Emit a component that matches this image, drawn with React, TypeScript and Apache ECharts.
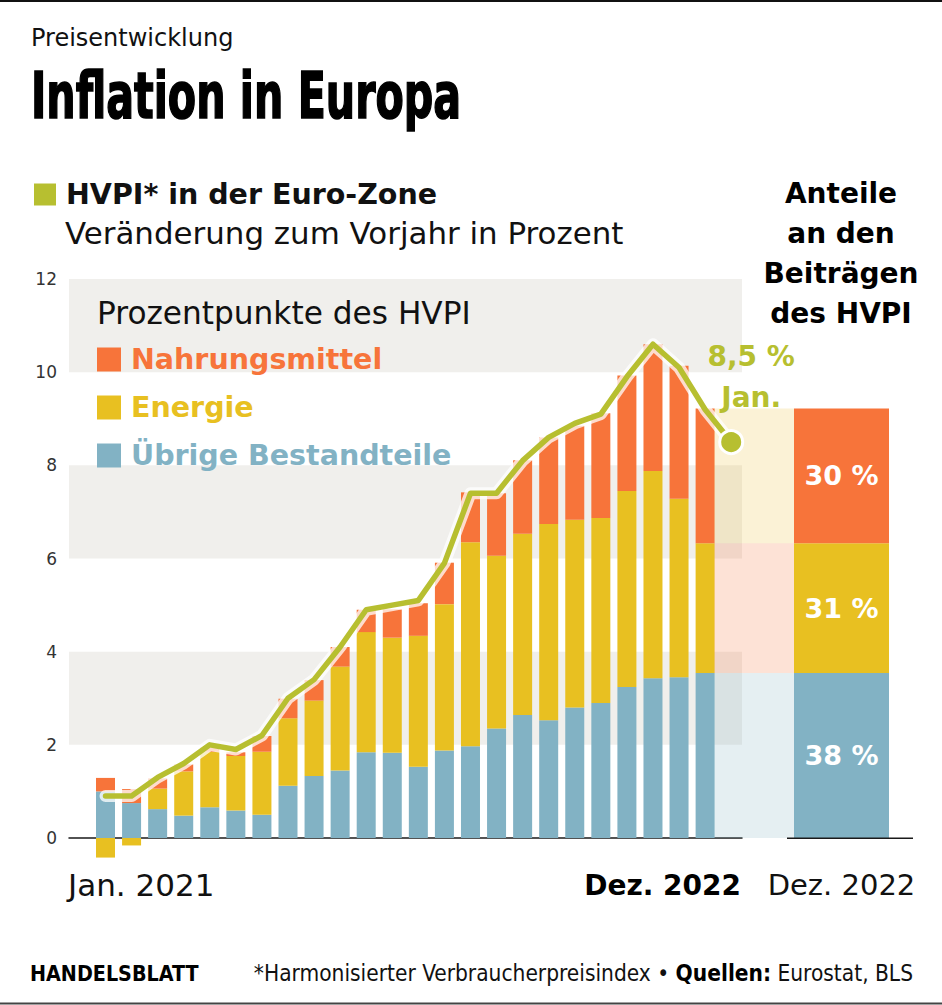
import React, { useEffect, useRef } from 'react';
import * as echarts from 'echarts';

// Monate (Jan. 2021 bis Jan. 2023; letzter Monat nur HVPI)
const months = [
  'Jan. 2021', 'Feb. 2021', 'März 2021', 'Apr. 2021', 'Mai 2021', 'Juni 2021',
  'Juli 2021', 'Aug. 2021', 'Sep. 2021', 'Okt. 2021', 'Nov. 2021', 'Dez. 2021',
  'Jan. 2022', 'Feb. 2022', 'März 2022', 'Apr. 2022', 'Mai 2022', 'Juni 2022',
  'Juli 2022', 'Aug. 2022', 'Sep. 2022', 'Okt. 2022', 'Nov. 2022', 'Dez. 2022',
  'Jan. 2023',
];

// Beiträge in Prozentpunkten (Jan. 2021 bis Dez. 2022)
const other = [
  1.0, 0.75, 0.62, 0.48, 0.66, 0.59, 0.5, 1.12, 1.33, 1.45, 1.84, 1.83,
  1.53, 1.88, 1.97, 2.35, 2.64, 2.53, 2.8, 2.9, 3.24, 3.43, 3.45, 3.54,
];
const energy = [
  -0.42, -0.16, 0.44, 0.95, 1.19, 1.17, 1.35, 1.45, 1.62, 2.23, 2.58, 2.47,
  2.81, 3.14, 4.38, 3.71, 3.89, 4.21, 4.03, 3.97, 4.21, 4.45, 3.83, 2.79,
];
const food = [
  0.29, 0.3, 0.22, 0.15, 0.09, 0.08, 0.34, 0.42, 0.44, 0.42, 0.48, 0.61,
  0.7, 0.89, 1.07, 1.34, 1.58, 1.86, 2.02, 2.25, 2.48, 2.72, 2.86, 2.89,
];

// HVPI, Veränderung zum Vorjahr in Prozent (Jan. 2021 bis Jan. 2023)
const hvpi = [
  0.9, 0.9, 1.3, 1.6, 2.0, 1.9, 2.2, 3.0, 3.4, 4.1, 4.9, 5.0,
  5.1, 5.9, 7.4, 7.4, 8.1, 8.6, 8.9, 9.1, 9.9, 10.6, 10.1, 9.2, 8.5,
];

// Anteile an den Beiträgen, Dez. 2022 (Übrige, Energie, Nahrungsmittel)
const shares = [38, 31, 30];

const yTicks = [0, 2, 4, 6, 8, 10, 12];
const bandRanges = [[2, 4], [6, 8], [10, 12]];

const names = {
  food: 'Nahrungsmittel',
  energy: 'Energie',
  other: 'Übrige Bestandteile',
  hvpi: 'HVPI* in der Euro-Zone',
};

const C = {
  food: '#f7743a',
  energy: '#e8c021',
  other: '#82b2c4',
  olive: '#b7bf30',
  band: '#f0efec',
  tintFood: 'rgba(237,196,69,0.22)',
  tintEnergy: 'rgba(246,123,69,0.22)',
  tintOther: 'rgba(137,182,196,0.22)',
};

const FONT = '"DejaVu Sans", sans-serif';
const COND = '"DejaVu Sans Condensed", sans-serif';

export default function App() {
  const ref = useRef<HTMLDivElement>(null);

  useEffect(() => {
    if (!ref.current) return;
    const chart = echarts.init(ref.current, undefined, { renderer: 'svg' });
    const lastBar = other.length - 1;
    const lastIdx = hvpi.length - 1;
    const decLabel = months[lastBar];
    const janShort = months[lastIdx].split(' ')[0];
    const yMin = yTicks[0];
    const yMax = yTicks[yTicks.length - 1];

    const stackBar = (name: string, data: number[], color: string) => ({
      name,
      type: 'bar',
      stack: 'hvpi',
      xAxisIndex: 1,
      yAxisIndex: 1,
      barWidth: 19,
      clip: false,
      silent: true,
      itemStyle: { color },
      data,
    });

    const tintBar = (name: string, v: number, color: string) => ({
      name,
      type: 'bar',
      stack: 'tint',
      xAxisIndex: 2,
      yAxisIndex: 2,
      barWidth: '100%',
      silent: true,
      itemStyle: { color },
      data: [v],
    });

    const shareBar = (name: string, v: number, share: number, color: string) => ({
      name,
      type: 'bar',
      stack: 'share',
      xAxisIndex: 3,
      yAxisIndex: 3,
      barWidth: '100%',
      silent: true,
      itemStyle: { color },
      label: {
        show: true,
        position: 'inside',
        formatter: `${share} %`,
        color: '#fff',
        fontSize: 27,
        fontWeight: 'bold',
        fontFamily: FONT,
      },
      data: [v],
    });

    const fmt = (v: number) => String(v).replace('.', ',');
    const hiddenY = (gridIndex: number) => ({ type: 'value', gridIndex, min: yMin, max: yMax, show: false });

    const option: any = {
      animation: false,
      backgroundColor: '#ffffff',
      textStyle: { fontFamily: FONT },
      grid: [
        { left: 69, top: 279, width: 673, height: 559 },
        { left: 92.47, top: 279, width: 651.75, height: 559 },
        { left: 714.3, top: 279, width: 79.7, height: 559 },
        { left: 794, top: 279, width: 95, height: 559 },
      ],
      xAxis: [
        {
          type: 'value',
          gridIndex: 0,
          min: 0,
          max: 1,
          axisLine: { show: true, lineStyle: { color: '#1a1a1a', width: 1.5 } },
          axisTick: { show: false },
          axisLabel: { show: false },
          splitLine: { show: false },
        },
        { type: 'category', gridIndex: 1, data: months, show: false },
        { type: 'category', gridIndex: 2, data: [decLabel], show: false },
        {
          type: 'category',
          gridIndex: 3,
          data: [decLabel],
          axisLine: { show: false },
          axisTick: { show: false },
          axisLabel: { fontSize: 29, color: '#111', margin: 32, fontFamily: FONT },
        },
      ],
      yAxis: [
        {
          type: 'value',
          gridIndex: 0,
          min: yMin,
          max: yMax,
          interval: 2,
          axisLine: { show: false },
          axisTick: { show: false },
          splitLine: { show: false },
          axisLabel: { fontSize: 17, color: '#333', margin: 12, fontFamily: FONT },
        },
        hiddenY(1),
        hiddenY(2),
        hiddenY(3),
      ],
      legend: [
        {
          data: [
            { name: names.food, textStyle: { color: C.food } },
            { name: names.energy, textStyle: { color: C.energy } },
            { name: names.other, textStyle: { color: C.other } },
          ],
          orient: 'vertical',
          left: 97,
          top: 345,
          padding: 0,
          itemWidth: 24,
          itemHeight: 24,
          itemGap: 19,
          icon: 'rect',
          selectedMode: false,
          textStyle: {
            fontSize: 28.5,
            fontWeight: 'bold',
            fontFamily: FONT,
            lineHeight: 24,
            padding: [0, 0, 0, 5],
          },
        },
        {
          data: [{ name: names.hvpi, icon: 'rect', itemStyle: { color: C.olive } }],
          left: 32,
          top: 180,
          padding: 0,
          itemWidth: 24,
          itemHeight: 24,
          selectedMode: false,
          textStyle: {
            fontSize: 28.5,
            fontWeight: 'bold',
            color: '#111',
            fontFamily: FONT,
            lineHeight: 24,
            padding: [0, 0, 0, 4],
          },
        },
      ],
      series: [
        {
          name: 'bands',
          type: 'line',
          xAxisIndex: 0,
          yAxisIndex: 0,
          data: [],
          silent: true,
          markArea: {
            silent: true,
            itemStyle: { color: C.band },
            data: bandRanges.map(([a, b]) => [{ yAxis: a }, { yAxis: b }]),
          },
        },
        stackBar(names.other, other, C.other),
        stackBar(names.energy, energy, C.energy),
        stackBar(names.food, food, C.food),
        tintBar('tint-other', other[lastBar], C.tintOther),
        tintBar('tint-energy', energy[lastBar], C.tintEnergy),
        tintBar('tint-food', food[lastBar], C.tintFood),
        shareBar('Anteil Übrige', other[lastBar], shares[0], C.other),
        shareBar('Anteil Energie', energy[lastBar], shares[1], C.energy),
        shareBar('Anteil Nahrung', food[lastBar], shares[2], C.food),
        {
          name: 'halo',
          type: 'line',
          xAxisIndex: 1,
          yAxisIndex: 1,
          silent: true,
          clip: false,
          symbol: 'none',
          lineStyle: { color: 'rgba(255,255,255,0.75)', width: 12, cap: 'round', join: 'round' },
          data: hvpi,
        },
        {
          name: names.hvpi,
          type: 'line',
          xAxisIndex: 1,
          yAxisIndex: 1,
          silent: true,
          clip: false,
          color: C.olive,
          symbol: 'circle',
          showSymbol: true,
          symbolSize: 23,
          itemStyle: { color: C.olive, borderColor: '#fff', borderWidth: 3 },
          lineStyle: { color: C.olive, width: 5.5, cap: 'round', join: 'round' },
          data: hvpi.map((v, i) =>
            i === lastIdx
              ? {
                  value: v,
                  symbol: 'circle',
                  label: {
                    show: true,
                    position: 'top',
                    distance: 5,
                    offset: [20, -6],
                    formatter: `${fmt(v)} %\n${janShort}`,
                    color: C.olive,
                    fontSize: 28,
                    fontWeight: 'bold',
                    lineHeight: 41,
                    align: 'center',
                    fontFamily: FONT,
                  },
                }
              : { value: v, symbol: 'none' }
          ),
        },
      ],
      graphic: [
        { type: 'line', z: 100, shape: { x1: 0, y1: 1, x2: 942, y2: 1 }, style: { stroke: '#111', lineWidth: 2 } },
        { type: 'line', z: 100, shape: { x1: 0, y1: 1003.5, x2: 942, y2: 1003.5 }, style: { stroke: '#444', lineWidth: 2 } },
        { type: 'line', z: 100, shape: { x1: 787, y1: 838.25, x2: 913, y2: 838.25 }, style: { stroke: '#1a1a1a', lineWidth: 1.5 } },
        {
          type: 'text', z: 100, x: 31, y: 38,
          style: { text: 'Preisentwicklung', fontSize: 24, fontFamily: FONT, fill: '#111', verticalAlign: 'middle' },
        },
        {
          type: 'text', z: 100, x: 31, y: 96, scaleX: 0.716,
          style: {
            text: 'Inflation in Europa', fontSize: 64, fontWeight: 'bold',
            fontFamily: COND,
            fill: '#000', stroke: '#000', lineWidth: 1.6, verticalAlign: 'middle',
          },
        },
        {
          type: 'text', z: 100, x: 65, y: 233,
          style: { text: 'Veränderung zum Vorjahr in Prozent', fontSize: 30.9, fontFamily: FONT, fill: '#111', verticalAlign: 'middle' },
        },
        {
          type: 'text', z: 100, x: 97, y: 313,
          style: { text: 'Prozentpunkte des HVPI', fontSize: 31.2, fontFamily: FONT, fill: '#111', verticalAlign: 'middle' },
        },
        {
          type: 'text', z: 100, x: 841, y: 253,
          style: {
            text: 'Anteile\nan den\nBeiträgen\ndes HVPI', fontSize: 28, fontWeight: 'bold', lineHeight: 40,
            fontFamily: FONT, fill: '#000', align: 'center', verticalAlign: 'middle',
          },
        },
        {
          type: 'text', z: 100, x: 68, y: 885,
          style: { text: months[0], fontSize: 31, fontFamily: FONT, fill: '#111', verticalAlign: 'middle' },
        },
        {
          type: 'text', z: 100, x: 741, y: 885,
          style: { text: decLabel, fontSize: 28, fontWeight: 'bold', fontFamily: FONT, fill: '#000', align: 'right', verticalAlign: 'middle' },
        },
        {
          type: 'text', z: 100, x: 30, y: 973,
          style: {
            text: 'HANDELSBLATT', fontSize: 21.3, fontWeight: 'bold',
            fontFamily: COND, fill: '#000', verticalAlign: 'middle',
          },
        },
        {
          type: 'text', z: 100, x: 913, y: 973,
          style: {
            text: '*Harmonisierter Verbraucherpreisindex • {b|Quellen:} Eurostat, BLS',
            fontSize: 22.5, fontFamily: COND, fill: '#111',
            align: 'right', verticalAlign: 'middle',
            rich: { b: { fontSize: 22.5, fontWeight: 'bold', fontFamily: COND, fill: '#000' } },
          },
        },
      ],
    };

    chart.setOption(option);
    return () => chart.dispose();
  }, []);

  return (
    <div
      ref={ref}
      style={{ position: 'fixed', left: 0, top: 0, width: 942, height: 1005, background: '#fff' }}
    />
  );
}
